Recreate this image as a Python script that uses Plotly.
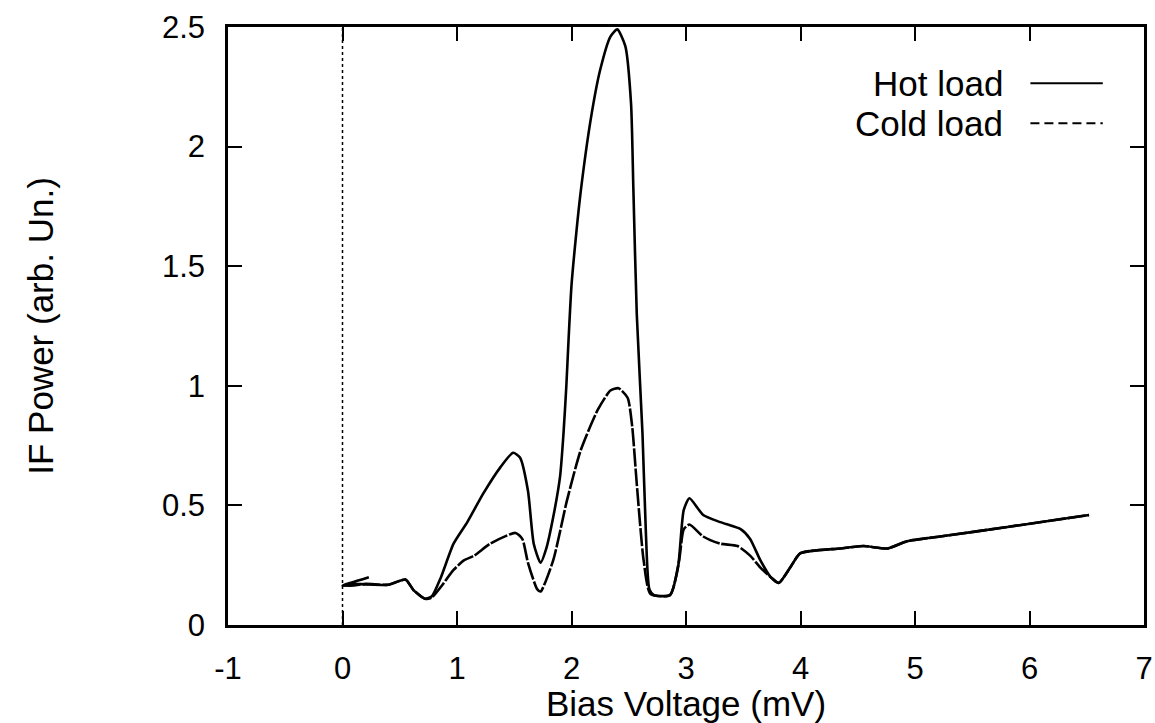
import plotly.graph_objects as go

# Hot load trace (bias voltage in mV, IF power in arb. units)
hot_v = [0.23, 0.0, 0.1, 0.2, 0.4, 0.55, 0.62, 0.72, 0.78, 0.86, 0.97, 1.09, 1.23, 1.38,
         1.49, 1.55, 1.62, 1.67, 1.73, 1.78, 1.84, 1.90, 1.93, 1.955, 1.975, 2.0, 2.04,
         2.08, 2.17, 2.25, 2.34, 2.40, 2.47, 2.52, 2.54, 2.57, 2.62, 2.65, 2.68, 2.72,
         2.86, 2.93, 2.98, 3.03, 3.15, 3.30, 3.48, 3.56, 3.65, 3.74, 3.81, 3.91, 4.0,
         4.35, 4.55, 4.76, 4.93, 5.22, 5.81, 6.52]
hot_p = [0.20, 0.165, 0.172, 0.17, 0.168, 0.19, 0.146, 0.11, 0.12, 0.20, 0.34, 0.43, 0.55, 0.66,
         0.72, 0.70, 0.56, 0.34, 0.26, 0.32, 0.45, 0.62, 0.80, 1.0, 1.2, 1.42, 1.63,
         1.81, 2.12, 2.32, 2.46, 2.49, 2.42, 2.18, 1.83, 1.30, 0.80, 0.38, 0.15, 0.125,
         0.125, 0.24, 0.48, 0.53, 0.46, 0.43, 0.40, 0.36, 0.27, 0.20, 0.176, 0.24, 0.30,
         0.32, 0.33, 0.32, 0.35, 0.37, 0.41, 0.46]

# Cold load trace
cold_v = [0.0, 0.1, 0.2, 0.4, 0.55, 0.62, 0.72, 0.78, 0.86, 0.97, 1.06, 1.15, 1.29, 1.51,
          1.57, 1.62, 1.70, 1.73, 1.84, 1.96, 2.08, 2.23, 2.34, 2.41, 2.49, 2.53, 2.57,
          2.63, 2.69, 2.86, 2.94, 2.98, 3.03, 3.15, 3.30, 3.45, 3.56, 3.65, 3.74, 3.81,
          3.91, 4.0, 4.35, 4.55, 4.76, 4.93, 5.22, 5.81, 6.52]
cold_p = [0.165, 0.165, 0.172, 0.168, 0.19, 0.146, 0.11, 0.115, 0.16, 0.23, 0.27, 0.29, 0.34, 0.385,
          0.36, 0.26, 0.15, 0.14, 0.27, 0.52, 0.73, 0.90, 0.98, 0.99, 0.95, 0.83, 0.59,
          0.27, 0.13, 0.125, 0.27, 0.40, 0.42, 0.37, 0.34, 0.33, 0.29, 0.24, 0.20, 0.176,
          0.24, 0.30, 0.32, 0.33, 0.32, 0.35, 0.37, 0.41, 0.46]

x_ticks = [-1, 0, 1, 2, 3, 4, 5, 6, 7]
x_tick_text = ["-1", "0", "1", "2", "3", "4", "5", "6", "7"]
y_ticks = [0, 0.5, 1, 1.5, 2, 2.5]

FONT = "Liberation Sans, Arial, Helvetica, sans-serif"

fig = go.Figure()
fig.add_trace(go.Scatter(x=hot_v, y=hot_p, mode="lines", name="Hot load",
                         line=dict(color="black", width=2.6, shape="spline", smoothing=0.6)))
fig.add_trace(go.Scatter(x=cold_v, y=cold_p, mode="lines", name="Cold load",
                         line=dict(color="black", width=2.6, dash="18px,2px",
                                   shape="spline", smoothing=0.6)))

# dotted zero-bias line
fig.add_vline(x=0, line=dict(color="black", width=1.5, dash="dot"))

# legend drawn by hand: text on the left, sample line on the right
fig.add_annotation(x=0.848, y=0.906, xref="paper", yref="paper", text="Hot load",
                   showarrow=False, xanchor="right", yanchor="middle",
                   font=dict(size=35, color="black", family=FONT))
fig.add_annotation(x=0.848, y=0.839, xref="paper", yref="paper", text="Cold load",
                   showarrow=False, xanchor="right", yanchor="middle",
                   font=dict(size=35, color="black", family=FONT))
fig.add_shape(type="line", xref="paper", yref="paper", x0=0.876, x1=0.955, y0=0.906, y1=0.906,
              line=dict(color="black", width=2))
fig.add_shape(type="line", xref="paper", yref="paper", x0=0.876, x1=0.955, y0=0.839, y1=0.839,
              line=dict(color="black", width=2, dash="9px,5px"))

axis_common = dict(showline=True, linecolor="black", linewidth=2.5, mirror="ticks",
                   ticks="inside", ticklen=14, tickwidth=2, tickcolor="black",
                   showgrid=False, zeroline=False, automargin=False,
                   tickfont=dict(size=31, color="black", family=FONT),
                   ticklabelstandoff=14)

fig.update_xaxes(range=[-1, 7], tickvals=x_ticks, ticktext=x_tick_text, **axis_common,
                 title=dict(text="Bias Voltage (mV)", standoff=12,
                            font=dict(size=35, color="black", family=FONT)))
fig.update_yaxes(range=[0, 2.5], tickvals=y_ticks, **axis_common,
                 title=dict(text="IF Power (arb. Un.)", standoff=98,
                            font=dict(size=35, color="black", family=FONT)))

fig.update_layout(width=1155, height=723, showlegend=False,
                  margin=dict(l=228, r=11, t=27, b=98),
                  paper_bgcolor="white", plot_bgcolor="white")

# drop the default page margin so the figure sits at the window's corner
fig.write_html("out.html", config={"displayModeBar": False},
               post_script="document.body.style.margin='0';")
